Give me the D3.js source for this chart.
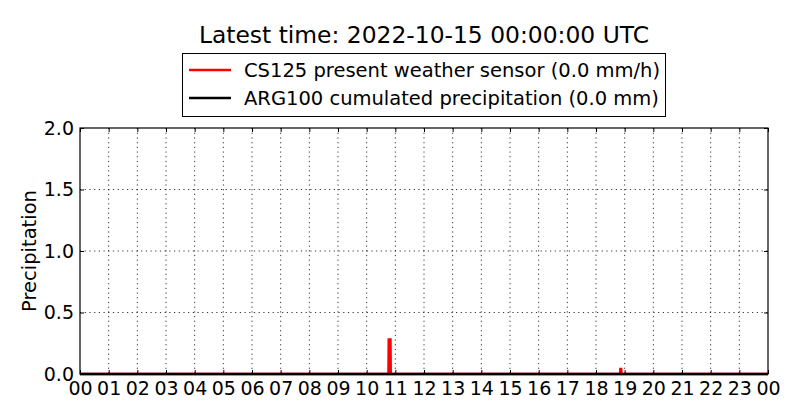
<!DOCTYPE html>
<html><head><meta charset="utf-8">
<script src="https://cdn.jsdelivr.net/npm/d3@7"></script>
<style>body{margin:0;background:#fff;} text{font-family:"DejaVu Sans",sans-serif;}</style>
</head><body>
<svg id="c" width="800" height="420"></svg>
<script>
const titleText = "Latest time: 2022-10-15 00:00:00 UTC";
const seriesNames = ["CS125 present weather sensor (0.0 mm/h)", "ARG100 cumulated precipitation (0.0 mm)"];
const seriesColors = ["#ff0000", "#000000"];
const hourTicks = ["00","01","02","03","04","05","06","07","08","09","10","11","12","13","14","15","16","17","18","19","20","21","22","23","00"];
const yTicks = [0.0, 0.5, 1.0, 1.5, 2.0];
// CS125 intensity (hours since 00 UTC, mm/h)
const cs125Time = [0, 10.76, 10.77, 10.83, 10.84, 18.84, 18.85, 18.88, 18.89, 24];
const cs125Value = [0, 0, 0.28, 0.28, 0, 0, 0.04, 0.04, 0, 0];
// ARG100 cumulated (hours, mm)
const argTime = [0, 6, 12, 18, 24];
const argValue = [0, 0, 0, 0, 0];

const svg = d3.select("#c");
const L = 80, R = 768, T = 128, B = 374;
const x = d3.scaleLinear().domain([0, 24]).range([L, R]);
const y = d3.scaleLinear().domain([0, 2]).range([B, T]);

// grid
const g = svg.append("g");
d3.range(1, 24).forEach(h => {
  g.append("line").attr("x1", x(h)).attr("x2", x(h)).attr("y1", T).attr("y2", B)
    .attr("stroke", "#000").attr("stroke-width", 0.8).attr("stroke-dasharray", "1.2,3.5");
});
yTicks.slice(1, -1).forEach(v => {
  g.append("line").attr("x1", L).attr("x2", R).attr("y1", y(v)).attr("y2", y(v))
    .attr("stroke", "#000").attr("stroke-width", 0.8).attr("stroke-dasharray", "1.2,3.5");
});

// lines
const line = d3.line().x(d => x(d[0])).y(d => y(d[1]));
svg.append("path").datum(cs125Time.map((t, i) => [t, cs125Value[i]]))
  .attr("d", line).attr("fill", "none").attr("stroke", seriesColors[0]).attr("stroke-width", 2.5);
svg.append("path").datum(argTime.map((t, i) => [t, argValue[i]]))
  .attr("d", line).attr("fill", "none").attr("stroke", seriesColors[1]).attr("stroke-width", 2.5);

// axes (inward ticks, classic style)
const xb = d3.axisBottom(x).tickValues(d3.range(0, 25)).tickFormat((d, i) => hourTicks[i]).tickSizeInner(-4).tickSizeOuter(0).tickPadding(8);
const xt = d3.axisTop(x).tickValues(d3.range(0, 25)).tickFormat("").tickSizeInner(-4).tickSizeOuter(0);
const yl = d3.axisLeft(y).tickValues(yTicks).tickFormat(d3.format(".1f")).tickSizeInner(-4).tickSizeOuter(0).tickPadding(6);
const yr = d3.axisRight(y).tickValues(yTicks).tickFormat("").tickSizeInner(-4).tickSizeOuter(0);
function style(sel) {
  sel.select(".domain").remove();
  sel.selectAll("line").attr("stroke", "#000").attr("stroke-width", 1);
  sel.selectAll("text").attr("font-size", 19).attr("fill", "#000").style("font-family", "DejaVu Sans");
}
svg.append("g").attr("transform", `translate(0,${B})`).call(xb).call(style);
svg.append("g").attr("transform", `translate(0,${T})`).call(xt).call(style);
svg.append("g").attr("transform", `translate(${L},0)`).call(yl).call(style);
svg.append("g").attr("transform", `translate(${R},0)`).call(yr).call(style);

svg.append("rect").attr("x", L).attr("y", T).attr("width", R - L).attr("height", B - T)
  .attr("fill", "none").attr("stroke", "#000").attr("stroke-width", 1.2);

// y label
svg.append("text").attr("transform", `translate(36,${(T + B) / 2}) rotate(-90)`)
  .attr("text-anchor", "middle").attr("font-size", 19.5).text("Precipitation");

// title
svg.append("text").attr("x", (L + R) / 2).attr("y", 43).attr("text-anchor", "middle")
  .attr("font-size", 23.4).text(titleText);

// legend
const lg = svg.append("g");
lg.append("rect").attr("x", 182.5).attr("y", 53.5).attr("width", 483).attr("height", 63)
  .attr("fill", "#fff").attr("stroke", "#000").attr("stroke-width", 1);
seriesNames.forEach((n, i) => {
  const yy = 70 + i * 28;
  lg.append("line").attr("x1", 189).attr("x2", 231).attr("y1", yy).attr("y2", yy)
    .attr("stroke", seriesColors[i]).attr("stroke-width", 2.5);
  lg.append("text").attr("x", 244).attr("y", yy + 7).attr("font-size", 19.5).text(n);
});
</script>
</body></html>
